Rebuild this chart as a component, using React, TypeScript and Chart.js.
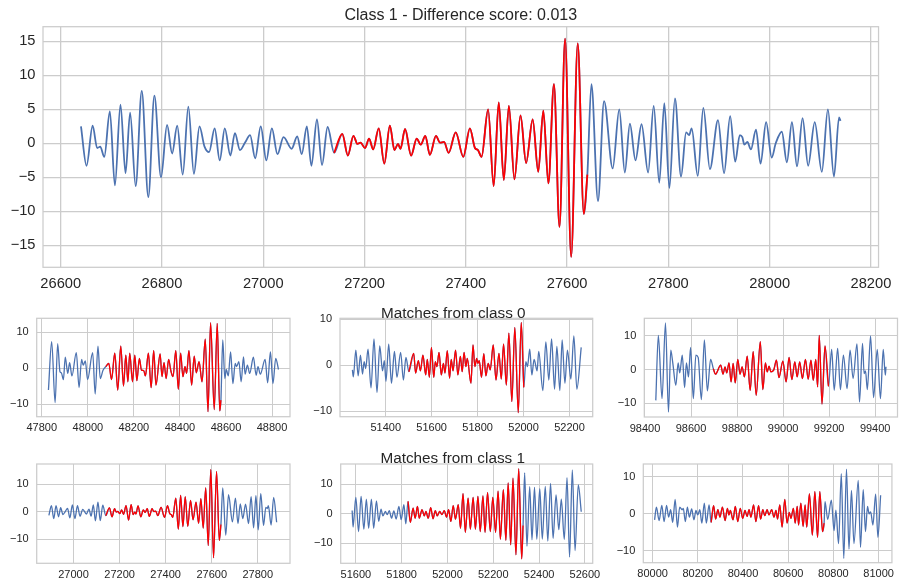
import React, { useEffect, useRef } from "react";
import { Chart, registerables } from "chart.js";

Chart.register(...registerables);

const BLUE = "#4c72b0";
const RED = "#ff0000";
const GRID = "#cccccc";
const TEXT = "#262626";
const FONT = "'Liberation Sans', Arial, Helvetica, sans-serif";

// ---- Query series (class 1), shown in the main chart and the first class-1 match ----
const mainT = [
  26640, 26651, 26663, 26672, 26678, 26686, 26697, 26707, 26718, 26728, 26737, 26748, 26760, 26773, 26785,
  26798, 26810, 26820, 26830, 26841, 26852, 26863, 26874, 26884, 26893, 26904, 26914, 26924, 26935, 26944,
  26954, 26964, 26974, 26984, 26995, 27006, 27017, 27028, 27040, 27056, 27067, 27076, 27086, 27095, 27106,
  27116, 27127, 27140, 27156, 27167, 27178, 27186, 27192, 27201, 27209, 27217, 27228, 27239, 27250, 27259,
  27266, 27271, 27280, 27292, 27303, 27311, 27320, 27329, 27341, 27349, 27357, 27366, 27380, 27395, 27408,
  27418, 27424, 27431, 27444, 27455, 27465, 27475, 27485, 27496, 27508, 27519, 27532, 27543, 27553, 27563,
  27574, 27585, 27596, 27608, 27621, 27633, 27640, 27648, 27661, 27673, 27690, 27703, 27714, 27724, 27735,
  27747, 27760, 27771, 27782, 27792, 27802, 27813, 27825, 27835, 27841, 27846, 27858, 27869, 27882, 27898,
  27910, 27922, 27932, 27941, 27946, 27950, 27956, 27963, 27973, 27982, 27993, 28004, 28012, 28024, 28034,
  28044, 28054, 28065, 28076, 28089, 28103, 28115, 28127, 28137, 28140,
];
const mainV = [
  2.5, -3.3, 2.6, -0.7, -0.5, -2.0, 4.7, -6.2, 5.7, -4.4, 4.5, -6.3, 7.7, -7.9, 7.0,
  -5.0, 2.7, -1.5, 2.6, -4.6, 5.4, -4.5, 2.5, -0.5, -1.3, 2.2, -2.5, 2.2, -1.8, 1.5,
  -1.0, 0.1, 1.2, -2.2, 2.5, -2.5, 2.2, -1.6, 0.9, -0.8, 1.0, -1.6, 2.5, -3.3, 3.5,
  -3.2, 2.4, -1.4, 1.4, -1.8, 1.1, -0.1, 0.1, -0.7, 0.7, -0.9, 2.2, -3.0, 2.6, -1.0,
  -0.1, -0.8, 2.1, -1.8, 0.7, -0.2, 1.1, -1.7, 1.1, 0.1, 0.2, -1.4, 1.6, -2.0, 2.2,
  -0.7, -1.0, -2.0, 5.0, -6.3, 6.0, -5.4, 5.5, -5.3, 4.1, -2.9, 3.5, -4.2, 4.8, -5.9,
  8.7, -12.3, 15.4, -16.7, 14.7, -10.4, -4.6, 8.7, -8.5, 6.2, -3.7, 5.0, -4.3, 2.9, -2.5,
  2.8, -4.3, 5.5, -5.8, 5.9, -6.6, 6.6, -4.9, 1.6, 1.2, 2.2, -4.8, 5.2, -3.8, 3.4,
  -4.4, 4.0, -2.7, 1.2, 0.9, -0.2, 0.2, -0.9, 2.0, -3.0, 3.1, -2.1, 0.0, 1.7, -2.8,
  3.1, -3.4, 3.7, -3.3, 3.1, -4.2, 5.0, -4.9, 3.8, 3.3,
];

// ---- Matches from class 0 ----
const c0aT = [
  47829, 47843, 47858, 47869, 47879, 47885, 47894, 47902, 47913, 47921, 47931, 47950, 47962, 47973, 47980,
  47989, 47999, 48021, 48032, 48044, 48054, 48066, 48078, 48091, 48103, 48117, 48130, 48143, 48155, 48165,
  48174, 48182, 48194, 48204, 48213, 48224, 48233, 48243, 48250, 48263, 48275, 48286, 48296, 48314, 48322,
  48331, 48340, 48351, 48360, 48370, 48382, 48393, 48403, 48413, 48422, 48429, 48439, 48451, 48462, 48471,
  48483, 48496, 48510, 48522, 48533, 48549, 48562, 48573, 48578, 48586, 48595, 48601, 48610, 48620, 48630,
  48640, 48646, 48656, 48666, 48676, 48683, 48693, 48703, 48719, 48731, 48739, 48749, 48770, 48781, 48793,
  48804, 48816, 48828,
];
const c0aV = [
  -6.0, 7.4, -9.5, 6.9, -0.9, -1.2, -3.1, 3.1, -1.4, 1.6, -2.1, 4.4, -5.3, 2.5, 0.9,
  2.1, -3.1, 4.4, -7.1, 6.2, -2.8, -0.5, 0.5, 1.4, -3.1, 4.2, -6.0, 6.2, -4.9, 3.7,
  -3.7, 4.2, -3.7, 3.7, -3.4, 2.8, -0.5, -0.6, -2.1, 4.2, -5.3, 4.9, -4.6, 4.0, -2.3,
  1.6, -2.8, 2.5, -0.5, -2.3, 4.9, -5.8, 4.2, -2.3, 0.5, -1.4, 4.9, -4.6, 3.4, -1.2,
  1.9, -3.7, 8.1, -12.0, 12.7, -11.4, 12.5, -11.8, -8.8, 7.9, -2.8, -0.3, -2.1, 4.6, -4.2,
  1.4, 0.5, 1.9, -3.7, 3.2, -1.6, 0.9, -1.4, 3.1, -1.9, 0.5, -1.6, 2.5, -4.0, 4.6,
  -4.2, 2.8, -0.3,
];

const c0bT = [
  51255, 51259, 51270, 51280, 51290, 51299, 51306, 51313, 51323, 51336, 51349, 51362, 51374, 51386, 51394,
  51401, 51413, 51425, 51438, 51449, 51465, 51477, 51488, 51501, 51522, 51530, 51542, 51551, 51562, 51574,
  51581, 51590, 51599, 51609, 51616, 51623, 51632, 51642, 51651, 51658, 51668, 51678, 51685, 51693, 51704,
  51714, 51725, 51733, 51741, 51749, 51755, 51771, 51780, 51788, 51796, 51801, 51807, 51817, 51827, 51836,
  51846, 51855, 51868, 51880, 51893, 51903, 51913, 51925, 51936, 51949, 51962, 51977, 51990, 52001, 52010,
  52017, 52027, 52036, 52046, 52059, 52066, 52084, 52097, 52110, 52122, 52135, 52145, 52158, 52168, 52180,
  52191, 52206, 52219, 52232, 52251,
];
const c0bV = [
  -1.0, -2.5, 3.3, -2.3, 2.2, -1.9, 0.8, -0.7, 3.5, -4.9, 5.7, -5.9, 4.2, -1.2, 1.0,
  -3.5, 4.6, -3.9, 3.0, -2.6, 2.8, -3.2, 1.7, -1.4, 2.6, -1.7, 1.0, -1.2, 2.2, -2.1,
  1.3, -2.6, 3.9, -2.6, 0.8, -0.3, 2.8, -2.1, 0.4, -1.7, 3.2, -2.8, 1.3, -1.2, 3.3,
  -2.1, 1.9, -1.4, 2.8, -0.3, 1.5, -3.9, 4.4, -0.3, 1.5, 0.4, 1.0, -2.6, 2.5, -2.3,
  0.4, -1.0, 4.4, -3.2, 2.6, -3.0, 4.6, -4.3, 7.0, -7.9, 8.2, -10.3, 9.3, -4.8, 0.8,
  -0.3, 3.5, -2.1, 1.3, -1.2, 3.0, -5.5, 5.1, -3.2, 5.7, -5.2, 4.1, -5.5, 5.5, -3.9,
  3.3, -3.0, 6.4, -5.2, 3.9,
];

const c0cT = [
  98447, 98458, 98474, 98489, 98502, 98512, 98521, 98534, 98544, 98551, 98562, 98572, 98580, 98589, 98598,
  98610, 98621, 98631, 98645, 98658, 98671, 98685, 98697, 98706, 98729, 98739, 98748, 98755, 98765, 98774,
  98783, 98792, 98803, 98813, 98822, 98832, 98844, 98857, 98870, 98883, 98901, 98912, 98923, 98931, 98939,
  98947, 98959, 98971, 98982, 98999, 99013, 99026, 99038, 99051, 99061, 99072, 99084, 99097, 99109, 99121,
  99131, 99142, 99150, 99157, 99169, 99182, 99197, 99211, 99222, 99237, 99249, 99262, 99278, 99291, 99304,
  99321, 99332, 99345, 99352, 99358, 99366, 99380, 99393, 99409, 99423, 99435, 99444, 99447,
];
const c0cV = [
  -9.2, 10.2, -8.7, 13.9, -12.7, 5.8, 1.8, -4.7, 2.0, -1.0, 4.3, -5.4, 2.0, -2.2, 6.6,
  -8.7, 4.3, 3.6, -9.0, 8.8, -6.4, 3.0, 0.2, -1.4, 1.3, -1.4, 0.8, -1.0, 2.0, -3.7,
  1.8, -4.0, 3.0, -1.4, 0.8, -2.2, 4.0, -6.2, 5.3, -7.7, 8.3, -6.0, 2.0, -0.7, 1.0,
  -0.7, -0.2, 2.8, -2.4, 2.5, -3.7, 3.6, -3.0, 2.3, -2.2, 2.3, -2.7, 3.0, -2.9, 2.8,
  -3.2, 3.0, -5.2, 10.2, -10.3, 7.0, -5.0, 6.0, -6.2, 6.3, -6.0, 4.3, -5.7, 5.8, -2.7,
  7.6, -9.7, 7.8, -1.2, -0.4, -6.0, 10.0, -8.4, 6.0, -8.7, 6.0, -1.7, 0.8,
];

// ---- Matches from class 1 (the first one is the query itself) ----
const c1bT = [
  51584, 51588, 51600, 51612, 51623, 51635, 51646, 51656, 51668, 51678, 51690, 51700, 51710, 51718, 51729,
  51737, 51746, 51756, 51766, 51776, 51788, 51798, 51810, 51818, 51828, 51838, 51850, 51859, 51869, 51877,
  51889, 51899, 51906, 51916, 51927, 51937, 51947, 51955, 51966, 51976, 51986, 51996, 52005, 52015, 52025,
  52035, 52047, 52057, 52068, 52078, 52090, 52100, 52112, 52122, 52133, 52143, 52155, 52164, 52175, 52187,
  52198, 52210, 52221, 52231, 52244, 52255, 52265, 52276, 52286, 52299, 52311, 52324, 52330, 52337, 52347,
  52359, 52369, 52380, 52390, 52403, 52414, 52427, 52438, 52450, 52461, 52474, 52486, 52497, 52510, 52522,
  52533, 52545, 52557, 52571, 52584,
];
const c1bV = [
  1.1, -4.5, 5.6, -6.0, 5.9, -5.2, 5.0, -4.9, 5.0, -4.9, 4.4, -2.6, 1.6, -0.7, 0.8,
  -0.3, 1.1, -1.5, 1.0, -1.8, 2.5, -2.0, 3.1, -3.4, 4.2, -2.9, 1.9, -1.5, 2.5, -1.5,
  1.4, -0.7, 0.8, -1.5, 2.1, -1.7, 1.1, -0.7, 0.8, -0.3, 1.1, -1.1, 1.4, -2.6, 2.8,
  -1.8, 3.1, -4.9, 6.8, -6.3, 5.3, -5.2, 5.6, -5.2, 5.9, -6.0, 6.1, -6.3, 7.2, -6.0,
  5.6, -6.3, 7.7, -8.6, 8.2, -9.0, 10.5, -10.5, 12.1, -13.9, 15.3, -15.3, -4.0, 13.9, -11.0,
  9.2, -8.8, 9.0, -8.6, 8.5, -8.6, 9.3, -9.3, 10.3, -8.3, 6.4, -5.4, 5.0, -8.7, 12.3,
  -14.7, 14.9, -12.5, 9.8, 0.7,
];

const c1cT = [
  80009, 80017, 80029, 80041, 80051, 80062, 80071, 80080, 80089, 80100, 80110, 80120, 80131, 80136, 80145,
  80154, 80163, 80173, 80183, 80192, 80200, 80209, 80218, 80229, 80238, 80250, 80259, 80270, 80279, 80289,
  80298, 80309, 80321, 80331, 80338, 80344, 80356, 80366, 80377, 80388, 80399, 80409, 80418, 80427, 80435,
  80447, 80457, 80469, 80478, 80488, 80496, 80507, 80515, 80527, 80537, 80546, 80553, 80563, 80573, 80585,
  80595, 80605, 80612, 80623, 80631, 80640, 80646, 80656, 80666, 80675, 80682, 80694, 80707, 80718, 80730,
  80740, 80752, 80759, 80763, 80775, 80791, 80803, 80811, 80823, 80835, 80846, 80858, 80869, 80880, 80891,
  80910, 80920, 80932, 80942, 80951, 80958, 80965, 80975, 80987, 80997, 81009,
];
const c1cV = [
  -1.6, 1.8, -1.8, 2.3, -2.1, 2.3, -0.9, 1.1, -2.3, 3.9, -3.6, 1.8, 1.1, 1.5, -2.1,
  1.8, -0.9, 1.3, -1.6, 0.9, -0.3, 1.1, -2.5, 2.9, -2.5, 2.4, -2.3, 2.2, -1.4, 1.1,
  -0.9, 1.8, -1.8, 1.5, -0.3, 0.9, -1.6, 2.0, -2.1, 1.5, -1.2, 0.9, -0.7, 1.1, -0.9,
  2.4, -2.1, 2.2, -1.4, 1.1, -0.5, 1.1, -0.3, 1.1, -0.9, 0.9, -1.4, 2.4, -3.6, 3.9,
  -2.5, 0.4, -1.2, 1.5, -2.5, 2.0, -3.0, 2.9, -3.4, 2.4, -3.6, 5.4, -5.7, 6.0, -6.3,
  6.0, -4.8, -2.5, 3.3, -1.5, 3.7, -4.5, 1.0, -8.0, 10.8, -12.0, 12.0, -9.5, 6.3, -8.0,
  9.0, -9.0, 6.5, -4.8, 2.0, 0.0, 0.5, -3.0, 5.3, -6.3, 5.0,
];

// highlighted (red) windows
const mainRed = [27140, 27640];
const c0aRed = [48078, 48578];
const c0bRed = [51501, 52001];
const c0cRed = [98697, 99197];
const c1bRed = [51828, 52330];
const c1cRed = [80259, 80759];

const mainTitle = "Class 1 - Difference score: 0.013";
const class0Title = "Matches from class 0";
const class1Title = "Matches from class 1";

type Panel = {
  t: number[];
  v: number[];
  red: number[];
  tRange?: number[];
  canvas: { left: number; top: number; width: number; height: number };
  area: { left: number; right: number; top: number; bottom: number };
  x: number[];
  y: number[];
  xStep: number;
  yStep: number;
  tick: number;
  lw: number;
  gw: number;
  xPad: number;
  yPad: number;
  title?: string;
};

const frame = {
  id: "frame",
  afterDatasetsDraw(chart: any, _a: any, opts: any) {
    const { ctx, chartArea: a } = chart;
    ctx.save();
    ctx.strokeStyle = GRID;
    ctx.lineWidth = opts.width || 1.25;
    ctx.strokeRect(a.left, a.top, a.right - a.left, a.bottom - a.top);
    ctx.restore();
  },
};

const fmt = (v: any) => String(v).replace("-", "\u2212");

function ChartPanel({ p }: { p: Panel }) {
  const ref = useRef<HTMLCanvasElement | null>(null);
  useEffect(() => {
    if (!ref.current) return;
    const pts = p.t
      .map((x, i) => ({ x, y: p.v[i] }))
      .filter((d) => !p.tRange || (d.x >= p.tRange[0] && d.x <= p.tRange[1]));
    const redPts = pts.filter((d) => d.x >= p.red[0] && d.x <= p.red[1]);
    const c = p.canvas;
    const a = p.area;
    const yW = a.left - c.left;
    const xH = c.top + c.height - a.bottom;
    const padR = c.left + c.width - a.right;
    const titleSize = 16;
    const titleLH = titleSize * 1.2;
    const titleTop = 16 - c.top - titleLH / 2;
    const padTop = p.title ? 0 : a.top - c.top;
    const titleBottom = a.top - c.top - titleTop - titleLH;
    const tickFont = { family: FONT, size: p.tick };
    const chart = new Chart(ref.current, {
      type: "line",
      data: {
        datasets: [
          {
            data: redPts,
            borderColor: RED,
            borderWidth: p.lw,
            pointRadius: 0,
            fill: false,
            order: 0,
            cubicInterpolationMode: "monotone",
          },
          {
            data: pts,
            borderColor: BLUE,
            borderWidth: p.lw,
            pointRadius: 0,
            fill: false,
            order: 1,
            cubicInterpolationMode: "monotone",
          },
        ],
      },
      options: {
        animation: false,
        responsive: false,
        events: [],
        layout: { padding: { left: 0, right: padR, top: padTop, bottom: 0 } },
        plugins: {
          legend: { display: false },
          tooltip: { enabled: false },
          title: p.title
            ? {
                display: true,
                text: p.title,
                color: TEXT,
                fullSize: false,
                font: { family: FONT, size: titleSize, weight: "normal" },
                padding: { top: titleTop, bottom: titleBottom },
              }
            : { display: false },
          frame: { width: 1.25 },
        } as any,
        scales: {
          x: {
            type: "linear",
            min: p.x[0],
            max: p.x[1],
            grid: { color: GRID, lineWidth: p.gw, drawTicks: false },
            border: { display: false },
            ticks: {
              stepSize: p.xStep,
              includeBounds: false,
              autoSkip: false,
              maxRotation: 0,
              padding: p.xPad,
              color: TEXT,
              font: tickFont,
              callback: fmt,
            },
            afterFit: (s: any) => {
              s.height = xH;
            },
          },
          y: {
            type: "linear",
            min: p.y[0],
            max: p.y[1],
            grid: { color: GRID, lineWidth: p.gw, drawTicks: false },
            border: { display: false },
            ticks: {
              stepSize: p.yStep,
              includeBounds: false,
              autoSkip: false,
              padding: p.yPad,
              color: TEXT,
              font: tickFont,
              callback: fmt,
            },
            afterFit: (s: any) => {
              s.width = yW;
            },
          },
        },
      } as any,
      plugins: [frame],
    });
    return () => chart.destroy();
  }, [p]);
  const c = p.canvas;
  return (
    <canvas
      ref={ref}
      width={c.width}
      height={c.height}
      style={{ position: "absolute", left: c.left, top: c.top, width: c.width, height: c.height }}
    />
  );
}

const sub = { tick: 11, lw: 1.3, gw: 1, xPad: 5, yPad: 8, xStep: 200, yStep: 10 };

const panels: Panel[] = [
  {
    t: mainT, v: mainV, red: mainRed, title: mainTitle,
    canvas: { left: 0, top: 0, width: 899, height: 300 },
    area: { left: 43, right: 884.3, top: 26.7, bottom: 267.3 },
    x: [26565, 28215], y: [-18.24, 17.15], xStep: 200, yStep: 5,
    tick: 14.67, lw: 1.8, gw: 1.3, xPad: 7.5, yPad: 7.5,
  },
  {
    ...sub, t: c0aT, v: c0aV, red: c0aRed,
    canvas: { left: 0, top: 300, width: 320, height: 140 },
    area: { left: 36.7, right: 290, top: 318.3, bottom: 416.7 },
    x: [47778, 48878], y: [-13.4, 13.9],
  },
  {
    ...sub, t: c0bT, v: c0bV, red: c0bRed,
    canvas: { left: 300, top: 300, width: 320, height: 140 },
    area: { left: 340, right: 592.7, top: 318.3, bottom: 416.7 },
    x: [51201, 52301], y: [-11.17, 10.2],
  },
  {
    ...sub, t: c0cT, v: c0cV, red: c0cRed,
    canvas: { left: 610, top: 300, width: 289, height: 140 },
    area: { left: 644.3, right: 897.5, top: 318.3, bottom: 417 },
    x: [98397, 99497], y: [-14.16, 15.26],
  },
  {
    ...sub, t: mainT, v: mainV, red: mainRed, tRange: [26885, 27895],
    canvas: { left: 0, top: 440, width: 320, height: 146 },
    area: { left: 36.7, right: 290, top: 464, bottom: 563.3 },
    x: [26840, 27940], y: [-18.73, 17.38],
  },
  {
    ...sub, t: c1bT, v: c1bV, red: c1bRed,
    canvas: { left: 300, top: 440, width: 320, height: 146 },
    area: { left: 340.7, right: 592.7, top: 464, bottom: 563.3 },
    x: [51534, 52634], y: [-16.8, 16.9],
  },
  {
    ...sub, t: c1cT, v: c1cV, red: c1cRed,
    canvas: { left: 610, top: 440, width: 289, height: 146 },
    area: { left: 643.3, right: 896.7, top: 464, bottom: 562.7 },
    x: [79959, 81059], y: [-13.15, 13.42],
  },
];

const subTitleStyle = (left: number, top: number): React.CSSProperties => ({
  position: "absolute",
  left,
  top,
  transform: "translateX(-50%)",
  fontFamily: FONT,
  fontSize: 15.3,
  lineHeight: 1,
  color: TEXT,
  whiteSpace: "nowrap",
});

export default function App() {
  return (
    <div style={{ position: "absolute", left: 0, top: 0, width: 899, height: 586, background: "#fff", overflow: "hidden" }}>
      {panels.map((p, i) => (
        <ChartPanel key={i} p={p} />
      ))}
      <div style={subTitleStyle(453.3, 304.5)}>{class0Title}</div>
      <div style={subTitleStyle(452.7, 449.5)}>{class1Title}</div>
    </div>
  );
}
